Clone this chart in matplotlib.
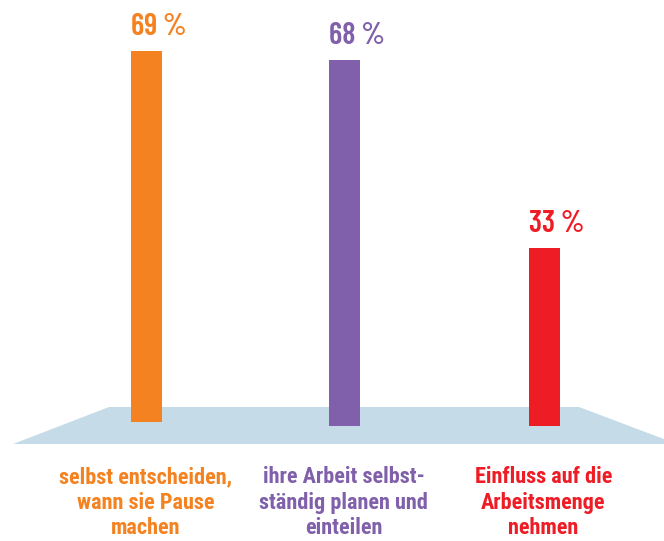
import matplotlib
matplotlib.use("Agg")
import matplotlib.pyplot as plt
from matplotlib.patches import Polygon

# Data
categories = ["selbst entscheiden,\nwann sie Pause\nmachen",
              "ihre Arbeit selbst-\nständig planen und\neinteilen",
              "Einfluss auf die\nArbeitsmenge\nnehmen"]
values = [69, 68, 33]
value_labels = ["69\u2009%", "68\u2009%", "33\u2009%"]
colors = ["#F58220", "#8060AA", "#EE1C25"]

# Layout (pixel space)
W, H = 664, 541
bar_x = [146.5, 344.5, 544.5]
bar_base = [422, 426, 426]
bar_w = 31
px_per_pct = 5.38

fig = plt.figure(figsize=(W / 100, H / 100), dpi=100)
ax = fig.add_axes([0, 0, 1, 1])
ax.set_xlim(0, W)
ax.set_ylim(H, 0)
ax.axis("off")

floor = Polygon([(13, 444), (109, 407), (579, 407), (677, 444)],
                closed=True, facecolor="#C5DCE8", edgecolor="none", zorder=1)
ax.add_patch(floor)

cat_font = ["Roboto Condensed", "Archivo Narrow", "Sofia Sans Condensed", "DejaVu Sans"]
num_font = ["Barlow Condensed", "Saira Condensed", "Roboto Condensed", "DejaVu Sans"]

for x, b, v, lab, c, cat in zip(bar_x, bar_base, values, value_labels, colors, categories):
    h = v * px_per_pct
    ax.text(x - bar_w / 2, b - h - 16, lab, ha="left", va="baseline",
            fontsize=22, fontweight="semibold", color=c, family=num_font)
    ax.bar(x, -h, bottom=b, width=bar_w, color=c, zorder=2)
    ax.text(x - 1, 466, cat, ha="center", va="top", fontsize=16,
            fontweight="bold", color=c, family=cat_font, linespacing=1.22)

fig.savefig("out.png", dpi=100)
